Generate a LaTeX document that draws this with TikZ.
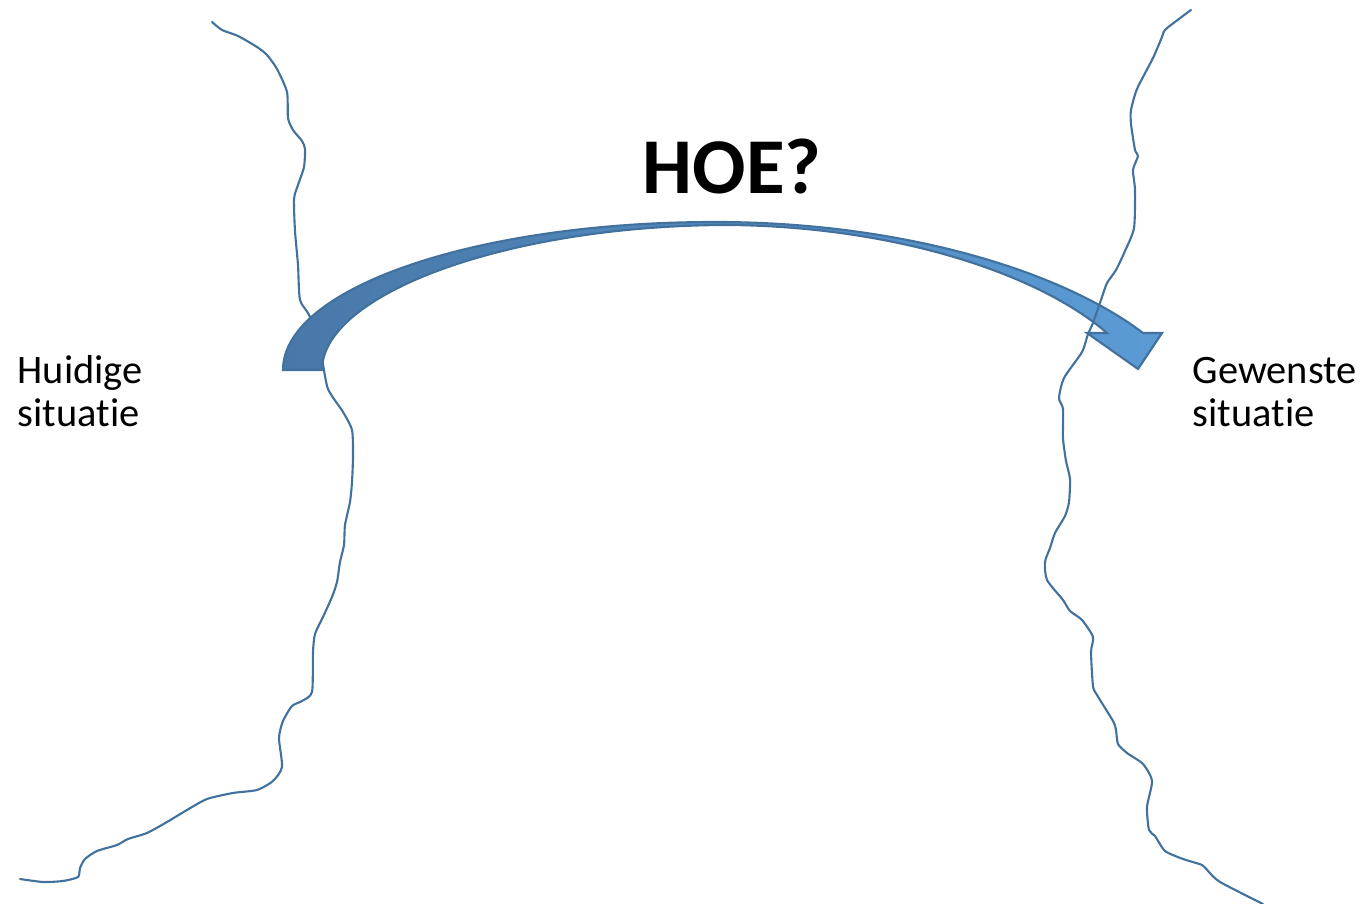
\documentclass[tikz,border=0pt]{standalone}
\usepackage{fontspec}
\setmainfont{Carlito}[Ligatures=NoCommon]
\usetikzlibrary{positioning}
\definecolor{lijnblauw}{HTML}{41719C}
\definecolor{pijldonker}{HTML}{4878A8}
\definecolor{pijllicht}{HTML}{5B9BD5}

\begin{document}
\begin{tikzpicture}[x=0.1mm, y=-0.1mm,
    rand/.style={draw=lijnblauw, line width=0.6pt, line join=round, line cap=round},
    pijl/.style={draw=lijnblauw, line width=0.6pt, left color=pijldonker, right color=pijllicht},
    tekst/.style={align=left, inner sep=0pt, anchor=base west, font=\fontsize{11.5}{12.5}\selectfont},
    titel/.style={inner sep=0pt, anchor=base, font=\fontsize{22.5}{26}\selectfont\bfseries}
]
\useasboundingbox (0,0) rectangle (1364,904);

\draw[rand] plot[smooth, tension=0.4] coordinates {(212,22) (222,30) (238,36) (257,47) (267,55) (277,69) (287,92) (288,118) (293,130) (302,141) (305,149) (304,167) (298,185) (294,199) (295,231) (298,265) (300,300) (310,317) (322,360) (328,389) (343,412) (352,430) (353,456) (352,482) (350,502) (345,525) (344,545) (340,562) (337,582) (332,597) (323,617) (315,634) (313,652) (312,692) (302,701) (292,706) (283,721) (279,738) (282,767) (273,781) (257,790) (233,793) (207,799) (187,810) (167,822) (147,833) (128,839) (117,845) (97,851) (85,859) (80,868) (78,877) (63,881) (43,882) (20,879)};

\path[pijl] (283,370) .. controls (283,288) and (476,222) .. (715,222)
    .. controls (900,222) and (1060,270) .. (1143,333)
    -- (1162,333) -- (1138,369) -- (1087,333) -- (1107,333)
    .. controls (1040,275) and (900,227) .. (730,225)
    .. controls (505,225) and (322,295) .. (322,370) -- cycle;

\draw[rand] plot[smooth, tension=0.4] coordinates {(1191,10) (1166,29) (1162,37) (1153,58) (1137,89) (1131,110) (1131,124) (1135,150) (1138,156) (1133,170) (1135,190) (1134,228) (1125,251) (1116,270) (1107,283) (1102,297) (1093,323) (1088,334) (1082,352) (1064,378) (1059,398) (1063,409) (1063,438) (1066,461) (1070,479) (1069,502) (1065,516) (1055,533) (1050,548) (1045,562) (1047,580) (1063,600) (1070,611) (1082,620) (1093,637) (1091,652) (1093,686) (1097,695) (1113,721) (1116,730) (1118,744) (1127,753) (1143,764) (1152,781) (1147,807) (1149,830) (1155,836) (1165,851) (1183,859) (1202,865) (1208,871) (1220,882) (1263,904)};

\node[titel] (hoe) at (732,194) {HOE?};
\node[tekst] (huidig) at (17,427) {Huidige\\situatie};
\node[tekst] (gewenst) at (1192,427) {Gewenste\\situatie};
\end{tikzpicture}
\end{document}
